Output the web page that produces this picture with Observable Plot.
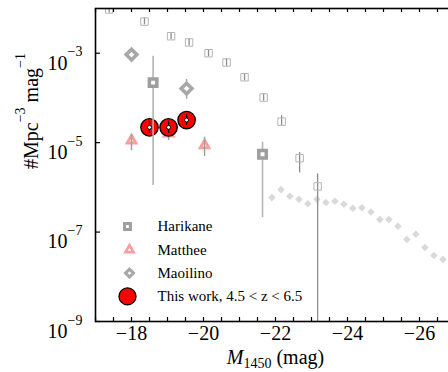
<!DOCTYPE html>
<html>
<head>
<meta charset="utf-8">
<script src="https://cdn.jsdelivr.net/npm/d3@7"></script>
<script src="https://cdn.jsdelivr.net/npm/@observablehq/plot@0.6"></script>
<style>
  html, body { margin: 0; padding: 0; background: #fff; overflow: hidden; }
  #chart svg { overflow: hidden; }
</style>
</head>
<body>
<div id="chart"></div>
<script>
// Galaxy UV luminosity function (small open squares)
const galM   = [-17.38, -18.36, -19.10, -19.60, -20.14, -20.64, -21.14, -21.67, -22.17, -22.67, -23.17];
const galPhi = [9.5e-3, 5.1e-3, 2.4e-3, 1.74e-3, 1.0e-3, 6.2e-4, 2.9e-4, 1.02e-4, 2.95e-5, 4.5e-6, 1.05e-6];
const galLo  = [7.9e-3, 4.3e-3, 2.0e-3, 1.45e-3, 8.3e-4, 5.1e-4, 2.4e-4, 8.5e-5, 2.4e-5, 2.1e-6, 1e-10];
const galHi  = [1.15e-2, 6.2e-3, 2.9e-3, 2.1e-3, 1.2e-3, 7.4e-4, 3.5e-4, 1.23e-4, 4.0e-5, 6.0e-6, 2.0e-6];

// Harikane AGN
const harM   = [-18.6, -21.64];
const harPhi = [2.2e-4, 5.5e-6];
const harLo  = [1.1e-6, 2.1e-7];
const harHi  = [8.5e-4, 1.02e-5];

// Matthee
const matM   = [-18.0, -19.03, -20.03];
const matPhi = [1.12e-5, 1.6e-5, 8.7e-6];
const matLo  = [6.6e-6, 1.12e-5, 4.9e-6];
const matHi  = [1.5e-5, 2.4e-5, 1.32e-5];

// Maoilino
const maoM   = [-18.0, -19.53];
const maoPhi = [9.3e-4, 1.62e-4];
const maoLo  = [9.3e-4, 9.3e-5];
const maoHi  = [9.3e-4, 2.6e-4];

// This work, 4.5 < z < 6.5
const thisM   = [-18.5, -19.03, -19.53];
const thisPhi = [2.2e-5, 2.2e-5, 3.2e-5];
const thisLo  = [1.6e-5, 1.6e-5, 2.4e-5];
const thisHi  = [3.0e-5, 3.0e-5, 4.3e-5];

// Bright quasar luminosity function (light grey points)
const qsoM   = [-21.9, -22.15, -22.4, -22.65, -22.9, -23.15, -23.4, -23.65, -23.9, -24.15,
                -24.4, -24.65, -24.9, -25.15, -25.4, -25.65, -25.9, -26.15, -26.4, -26.65];
const qsoPhi = [5.9e-7, 8.9e-7, 6.3e-7, 5.4e-7, 4.3e-7, 5.4e-7, 4.6e-7, 4.9e-7, 4.2e-7, 3.4e-7,
                3.5e-7, 2.8e-7, 1.9e-7, 1.9e-7, 1.35e-7, 6.8e-8, 8.9e-8, 4.5e-8, 3.0e-8, 2.45e-8];

// Axis ticks
const xLabelTicks = [-18, -20, -22, -24, -26];
const xMinorTicks = [-17, -17.5, -18, -18.5, -19, -19.5, -20, -20.5, -21, -21.5, -22,
                     -22.5, -23, -23.5, -24, -24.5, -25, -25.5, -26, -26.5, -27];
const yTicks = [1e-9, 1e-7, 1e-5, 1e-3];

// Legend entries
const legendLabels = ["Harikane", "Matthee", "Maoilino", "This work, 4.5 < z < 6.5"];

const rows = (M, phi, lo, hi) => M.map((m, i) => ({M: m, phi: phi[i], lo: lo ? lo[i] : null, hi: hi ? hi[i] : null}));
const gal = rows(galM, galPhi, galLo, galHi);
const har = rows(harM, harPhi, harLo, harHi);
const mat = rows(matM, matPhi, matLo, matHi);
const mao = rows(maoM, maoPhi, maoLo, maoHi);
const own = rows(thisM, thisPhi, thisLo, thisHi);
const qso = rows(qsoM, qsoPhi);

const HAR = "#9e9e9e", MAT = "#ff9c9c", MAO = "#a8a8a8";

// Legend symbols, one row each
const legendStyles = [
  {symbol: "square", r: 3.3, fill: "white", stroke: HAR, strokeWidth: 3},
  {symbol: "triangle", r: 3.0, fill: "white", stroke: MAT, strokeWidth: 2.6},
  {symbol: "diamond2", r: 3.6, fill: "white", stroke: MAO, strokeWidth: 3},
  {symbol: "circle", r: 8.5, fill: "#ff0000", stroke: "black", strokeWidth: 1.3}
];
const legendDx = [32, 34, 34, 32];
const legendMarks = legendLabels.flatMap((label, i) => [
  Plot.dot([label], {frameAnchor: "top-left", dx: legendDx[i], dy: 218 + 23.3 * i, ...legendStyles[i]}),
  Plot.text([label], {frameAnchor: "top-left", dx: 62, dy: 218 + 23.3 * i, text: d => d,
                      textAnchor: "start", lineAnchor: "middle", fontSize: 15, fill: "black"})
]);

const chart = Plot.plot({
  width: 448,
  height: 372,
  marginLeft: 95,
  marginRight: -7,
  marginTop: 8,
  marginBottom: 51,
  style: {fontFamily: "'Liberation Serif', 'Times New Roman', serif", fontSize: "20px", background: "white", color: "black"},
  x: {domain: [-17, -27]},
  y: {type: "log", domain: [1e-9, 1e-2]},
  marks: [
    // quasar LF points
    Plot.dot(qso, {x: "M", y: "phi", symbol: "diamond2", r: 3.4, fill: "#d9d9d9", clip: true}),
    // galaxy LF
    Plot.ruleX(gal, {x: "M", y1: "lo", y2: "hi", stroke: "#8c8c8c", strokeWidth: 1.3, clip: true}),
    Plot.dot(gal, {x: "M", y: "phi", symbol: "square", r: 4.2, fill: "none", stroke: "#b4b4b4", strokeWidth: 1, clip: true}),
    // Matthee
    Plot.dot(mat, {x: "M", y: "phi", symbol: "triangle", r: 3.3, fill: "white", stroke: MAT, strokeWidth: 2.8, clip: true}),
    Plot.ruleX(mat, {x: "M", y1: "lo", y2: "hi", stroke: "#a0a0a0", strokeWidth: 1.5, clip: true}),
    // Maoilino
    Plot.ruleX(mao, {x: "M", y1: "lo", y2: "hi", stroke: MAO, strokeWidth: 1.5, clip: true}),
    Plot.dot(mao, {x: "M", y: "phi", symbol: "diamond2", r: 4.8, fill: "white", stroke: MAO, strokeWidth: 3.6, clip: true}),
    // This work
    Plot.dot(own, {x: "M", y: "phi", r: 8.7, fill: "#ff0000", stroke: "black", strokeWidth: 1.3, clip: true}),
    Plot.ruleX(own, {x: "M", y1: "lo", y2: "hi", stroke: "black", strokeWidth: 1.3, clip: true}),
    Plot.dot(own, {x: "M", y: "phi", r: 2, fill: "white", stroke: "black", strokeWidth: 1, clip: true}),
    // Harikane
    Plot.ruleX(har, {x: "M", y1: "lo", y2: "hi", stroke: "#b4b4b4", strokeWidth: 1.6, clip: true}),
    Plot.dot(har, {x: "M", y: "phi", symbol: "square", r: 4.2, fill: "white", stroke: HAR, strokeWidth: 3.5, clip: true}),
    // frame and inward ticks
    Plot.frame({stroke: "black", strokeWidth: 1.6}),
    Plot.ruleX(xMinorTicks, {x: d => d, insetTop: 309, stroke: "black", strokeWidth: 1.2}),
    Plot.ruleX(xMinorTicks, {x: d => d, insetBottom: 309, stroke: "black", strokeWidth: 1.2}),
    Plot.ruleY(yTicks, {y: d => d, insetRight: 355, stroke: "black", strokeWidth: 1.2}),
    // tick labels
    Plot.axisX({ticks: xLabelTicks, tickSize: 0, tickPadding: 4, label: null,
                tickFormat: d => "\u2212" + Math.abs(d)}),
    Plot.axisY({ticks: yTicks, tickSize: 0, tickPadding: 13, label: null, dy: 10,
                tickFormat: d => "10^{\u2212" + (-Math.round(Math.log10(d))) + "}"}),
    // axis titles
    Plot.text(["*M*_{1450} (mag)"], {frameAnchor: "bottom", lineAnchor: "middle", text: d => d, dy: 36,
                                     fontSize: 20, fill: "black"}),
    Plot.text(["#Mpc^{\u22123} mag^{\u22121}"], {frameAnchor: "left", lineAnchor: "middle", text: d => d, rotate: -90,
                                               dx: -64, dy: 4, fontSize: 20, fill: "black"}),
    ...legendMarks
  ]
});

document.getElementById("chart").appendChild(chart);

// Turn ^{..}, _{..} and *..* markup into superscript, subscript and italic tspans
const SVGNS = "http://www.w3.org/2000/svg";
function richText(el) {
  const src = el.textContent;
  if (!/[\^_]\{|\*/.test(src)) return;
  const base = parseFloat(getComputedStyle(el).fontSize) || 20;
  el.textContent = "";
  const re = /\^\{([^}]*)\}|_\{([^}]*)\}|\*([^*]*)\*|([^\^_*]+)/g;
  let shift = 0, m;
  while ((m = re.exec(src))) {
    const t = document.createElementNS(SVGNS, "tspan");
    let target = 0;
    if (m[1] != null) { t.textContent = m[1]; t.setAttribute("font-size", base * 0.7); target = -0.66 * base; }
    else if (m[2] != null) { t.textContent = m[2]; t.setAttribute("font-size", base * 0.7); target = 0.2 * base; }
    else if (m[3] != null) { t.textContent = m[3]; t.setAttribute("font-style", "italic"); }
    else t.textContent = m[4];
    if (target !== shift) { t.setAttribute("dy", target - shift); shift = target; }
    el.appendChild(t);
  }
}
chart.querySelectorAll("text").forEach(el => { if (!el.querySelector("tspan")) richText(el); });
</script>
</body>
</html>
